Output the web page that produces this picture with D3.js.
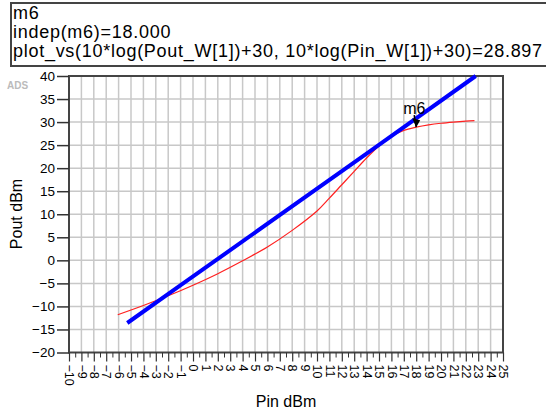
<!DOCTYPE html>
<html><head><meta charset="utf-8">
<script src="https://cdn.jsdelivr.net/npm/d3@7/dist/d3.min.js"></script>
<style>body{margin:0;background:#fff}svg{display:block;font-family:"Liberation Sans",Arial,sans-serif}</style>
</head><body><svg id="c" width="546" height="418"></svg>
<script>
const titleLines = ["m6", "indep(m6)=18.000", "plot_vs(10*log(Pout_W[1])+30, 10*log(Pin_W[1])+30)=28.897"];
const xTicks = d3.range(-10, 26, 1);
const yTicks = [-20,-15,-10,-5,0,5,10,15,20,25,30,35,40];
const pinRed  = [-6.07,-4,-2,0,2,4,6,8,10,11,12,13,14,15,16,17,18,19,20,21,22,22.7];
const poutRed = [-11.8,-9.8,-7.7,-5.4,-2.9,-0.1,2.9,6.5,10.7,13.5,16.4,19.3,22.2,24.8,26.9,28.2,28.897,29.4,29.75,30.0,30.2,30.3];
const pinBlue  = [-5.3,-1.05,14.54,22.8];
const poutBlue = [-13.6,-5.5,24.2,40];
const marker = {name:"m6", x:18.0, y:28.897};

const svg = d3.select("#c");
const x = d3.scaleLinear().domain([-10,25]).range([69,503]);
const y = d3.scaleLinear().domain([-20,40]).range([352.5,76]);

// title box
svg.append("rect").attr("x",11).attr("y",3).attr("width",545).attr("height",63)
  .attr("fill","#fff").attr("stroke","#444").attr("stroke-width",2);
svg.selectAll("text.t").data(titleLines).join("text").attr("class","t")
  .attr("x",13).attr("y",(d,i)=>19+i*19).attr("font-size",18).attr("letter-spacing",0.72).attr("fill","#000").text(d=>d);

svg.append("text").attr("x",7).attr("y",89).attr("font-size",10).attr("font-weight","bold").attr("fill","#bbb").text("ADS");

// grid
const g = svg.append("g");
g.selectAll("line.vx").data(d3.range(-9,25,1)).join("line")
  .attr("x1",d=>x(d)).attr("x2",d=>x(d)).attr("y1",y(40)).attr("y2",y(-20))
  .attr("stroke","#c8c8c8").attr("stroke-width",1.5);
g.selectAll("line.hy").data(yTicks.slice(1,-1)).join("line")
  .attr("y1",d=>y(d)).attr("y2",d=>y(d)).attr("x1",x(-10)).attr("x2",x(25))
  .attr("stroke","#c8c8c8").attr("stroke-width",1.5);

// frame
svg.append("rect").attr("x",x(-10)).attr("y",y(40)).attr("width",x(25)-x(-10)).attr("height",y(-20)-y(40))
  .attr("fill","none").attr("stroke","#444").attr("stroke-width",2);

// y axis
const ya = svg.append("g").attr("transform",`translate(${x(-10)},0)`)
  .call(d3.axisLeft(y).tickValues(yTicks).tickSize(12).tickPadding(2));
ya.select(".domain").remove();
ya.selectAll("line").attr("stroke","#333").attr("stroke-width",1.5);
ya.selectAll("text").attr("font-size",13.5).attr("fill","#000").attr("font-family","Liberation Sans, Arial");

// x axis minor
const xm = svg.append("g").attr("transform",`translate(0,${y(-20)})`)
  .call(d3.axisBottom(x).tickValues(d3.range(-9.5,25,1)).tickSize(5).tickFormat(""));
xm.select(".domain").remove();
xm.selectAll("line").attr("stroke","#333").attr("stroke-width",1);
const xa = svg.append("g").attr("transform",`translate(0,${y(-20)})`)
  .call(d3.axisBottom(x).tickValues(xTicks).tickSize(9).tickPadding(3));
xa.select(".domain").remove();
xa.selectAll("line").attr("stroke","#333").attr("stroke-width",1.2);
xa.selectAll("text").attr("font-size",12.5).attr("fill","#000").attr("font-family","Liberation Sans, Arial")
  .attr("transform","rotate(90)").attr("text-anchor","start").attr("dy","0.35em").attr("y",0).attr("x",12);

// axis labels
svg.append("text").attr("transform","translate(22,214) rotate(-90)").attr("text-anchor","middle")
  .attr("font-size",16).attr("fill","#000").text("Pout dBm");
svg.append("text").attr("x",286).attr("y",407).attr("text-anchor","middle")
  .attr("font-size",16).attr("fill","#000").text("Pin dBm");

// lines
svg.append("path").datum(d3.zip(pinRed,poutRed)).attr("d",d3.line().x(d=>x(d[0])).y(d=>y(d[1])).curve(d3.curveCatmullRom))
  .attr("fill","none").attr("stroke","#ff2020").attr("stroke-width",1.2);
svg.append("path").datum(d3.zip(pinBlue,poutBlue)).attr("d",d3.line().x(d=>x(d[0])).y(d=>y(d[1])))
  .attr("fill","none").attr("stroke","#0000ff").attr("stroke-width",4);

// marker
const mx = x(marker.x), my = y(marker.y);
svg.append("path").attr("d",`M${mx},${my} L${mx-4},${my-9} L${mx+4},${my-7} Z`).attr("fill","#000");
svg.append("line").attr("x1",mx).attr("y1",my).attr("x2",mx-2).attr("y2",my-12).attr("stroke","#000").attr("stroke-width",1.5);
svg.append("text").attr("x",mx-13).attr("y",my-13).attr("font-size",16).attr("fill","#000").text(marker.name);
</script></body></html>
